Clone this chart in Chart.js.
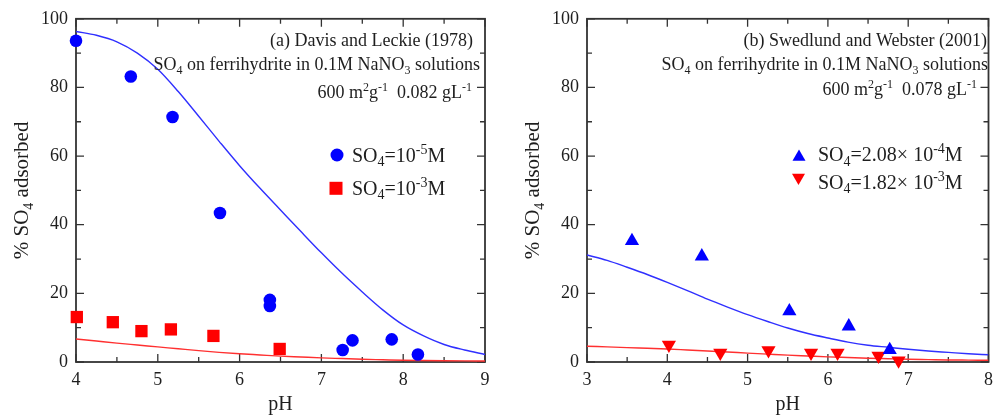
<!DOCTYPE html>
<html>
<head>
<meta charset="utf-8">
<title>SO4 adsorption on ferrihydrite</title>
<script src="https://cdn.jsdelivr.net/npm/chart.js@4.4.1/dist/chart.umd.min.js"></script>
<style>
  body{margin:0;background:#fff;}
  #wrap{display:flex;width:1000px;height:420px;}
  canvas{display:block;}
</style>
</head>
<body>
<div id="wrap">
  <canvas id="chartA" width="500" height="420"></canvas>
  <canvas id="chartB" width="500" height="420"></canvas>
</div>
<script>
// ---- panel (a) Davis and Leckie (1978) ----
const phA_low = [4.0, 4.67, 5.18, 5.76, 6.37, 6.37, 7.26, 7.38, 7.86, 8.18];
const adsA_low = [93.6, 83.2, 71.4, 43.4, 18.1, 16.3, 3.5, 6.3, 6.6, 2.2];
const phA_high = [4.01, 4.45, 4.80, 5.16, 5.68, 6.49];
const adsA_high = [13.1, 11.6, 9.0, 9.5, 7.6, 3.8];
// model curves (pH 4..9, every 0.25)
const phA_model = [4.0, 4.25, 4.5, 4.75, 5.0, 5.25, 5.5, 5.75, 6.0, 6.25, 6.5, 6.75, 7.0, 7.25, 7.5, 7.75, 8.0, 8.25, 8.5, 8.75, 9.0];
const modelA_low = [96.3, 95.2, 93.3, 90.0, 85.3, 78.8, 71.6, 64.3, 57.2, 50.6, 44.3, 38.0, 31.8, 25.9, 20.4, 15.2, 10.8, 7.6, 5.1, 3.5, 2.2];
const modelA_high = [6.7, 6.1, 5.5, 4.95, 4.4, 3.85, 3.3, 2.8, 2.4, 2.05, 1.7, 1.45, 1.2, 1.0, 0.8, 0.65, 0.5, 0.42, 0.36, 0.32, 0.3];

// ---- panel (b) Swedlund and Webster (2001) ----
const phB_low = [3.56, 4.43, 5.52, 6.26, 6.77];
const adsB_low = [35.3, 30.8, 14.8, 10.4, 3.5];
const phB_high = [4.02, 4.66, 5.26, 5.79, 6.12, 6.63, 6.88];
const adsB_high = [5.0, 2.7, 3.4, 2.7, 2.7, 1.8, 0.4];
// model curves (pH 3..8, every 0.25)
const phB_model = [3.0, 3.25, 3.5, 3.75, 4.0, 4.25, 4.5, 4.75, 5.0, 5.25, 5.5, 5.75, 6.0, 6.25, 6.5, 6.75, 7.0, 7.25, 7.5, 7.75, 8.0];
const modelB_low = [31.2, 29.6, 27.6, 25.5, 23.2, 20.8, 18.3, 16.0, 13.8, 11.8, 9.9, 8.3, 7.0, 5.8, 4.9, 4.3, 3.7, 3.2, 2.8, 2.4, 2.1];
const modelB_high = [4.6, 4.4, 4.2, 4.0, 3.8, 3.5, 3.2, 2.9, 2.6, 2.3, 2.0, 1.75, 1.5, 1.3, 1.1, 0.95, 0.8, 0.7, 0.6, 0.55, 0.5];

// axis ticks
const yTicks = [0, 20, 40, 60, 80, 100];
const xTicksA = [4, 5, 6, 7, 8, 9];
const xTicksB = [3, 4, 5, 6, 7, 8];

const BLUE = '#0000ff';
const RED = '#ff0000';
const FONT = '"Liberation Serif", "Times New Roman", serif';
const TEXT = '#1e1e1e';

const toPoints = (xs, ys) => xs.map((x, i) => ({x, y: ys[i]}));

// text pieces: [string, 'n' | 'sub' | 'sup']
const drawRich = (ctx, segs, x, y, size, align) => {
  const fontFor = (t) => `${t === 'n' ? size : Math.round(size * 0.68)}px ${FONT}`;
  let w = 0;
  segs.forEach(([txt, t]) => { ctx.font = fontFor(t); w += ctx.measureText(txt).width; });
  let cx = align === 'right' ? x - w : align === 'center' ? x - w / 2 : x;
  segs.forEach(([txt, t]) => {
    ctx.font = fontFor(t);
    const dy = t === 'sub' ? size * 0.24 : t === 'sup' ? -size * 0.38 : 0;
    ctx.fillText(txt, cx, y + dy);
    cx += ctx.measureText(txt).width;
  });
};

const drawSymbol = (ctx, style, x, y, r, color) => {
  ctx.fillStyle = color;
  ctx.beginPath();
  if (style === 'circle') {
    ctx.arc(x, y, r, 0, Math.PI * 2);
  } else if (style === 'rect') {
    const s = r * Math.SQRT1_2;
    ctx.rect(x - s, y - s, 2 * s, 2 * s);
  } else {
    const dir = style === 'down' ? -1 : 1;
    ctx.moveTo(x, y - dir * r);
    ctx.lineTo(x + r * 0.866, y + dir * r / 2);
    ctx.lineTo(x - r * 0.866, y + dir * r / 2);
    ctx.closePath();
  }
  ctx.fill();
};

// box frame with inward major/minor ticks on all four sides
const frameTicks = {
  id: 'frameTicks',
  beforeDatasetsDraw(chart) {
    const {ctx, chartArea: a, scales: {x, y}} = chart;
    ctx.save();
    ctx.strokeStyle = '#333';
    ctx.lineWidth = 1.3;
    ctx.beginPath();
    for (let v = x.min; v <= x.max + 1e-9; v += 0.5) {
      const px = x.getPixelForValue(v);
      const len = Math.abs(v - Math.round(v)) < 1e-6 ? 8 : 5;
      ctx.moveTo(px, a.bottom); ctx.lineTo(px, a.bottom - len);
      ctx.moveTo(px, a.top); ctx.lineTo(px, a.top + len);
    }
    for (let v = y.min; v <= y.max + 1e-9; v += 10) {
      const py = y.getPixelForValue(v);
      const len = v % 20 === 0 ? 8 : 5;
      ctx.moveTo(a.left, py); ctx.lineTo(a.left + len, py);
      ctx.moveTo(a.right, py); ctx.lineTo(a.right - len, py);
    }
    ctx.stroke();
    ctx.lineWidth = 1.8;
    ctx.strokeRect(a.left, a.top, a.right - a.left, a.bottom - a.top);
    ctx.restore();
  }
};

// notes, legend and axis titles (they need sub/superscripts)
const panelText = (cfg) => ({
  id: 'panelText',
  afterDraw(chart) {
    const {ctx, chartArea: a} = chart;
    ctx.save();
    ctx.fillStyle = TEXT;
    ctx.textBaseline = 'alphabetic';
    ctx.textAlign = 'left';
    cfg.notes.forEach((n) => drawRich(ctx, n.segs, n.x, n.y, 18, 'right'));
    cfg.legend.forEach((l) => {
      drawSymbol(ctx, l.style, l.sx, l.sy, l.r, l.color);
      ctx.fillStyle = TEXT;
      drawRich(ctx, l.segs, l.tx, l.ty, 20, 'left');
    });
    drawRich(ctx, [['pH', 'n']], (a.left + a.right) / 2, 410, 20, 'center');
    ctx.translate(a.left - 55, (a.top + a.bottom) / 2);
    ctx.rotate(-Math.PI / 2);
    drawRich(ctx, [['% SO', 'n'], ['4', 'sub'], [' adsorbed', 'n']], 0, 7, 21, 'center');
    ctx.restore();
  }
});

const makeChart = (id, xMin, xMax, xTicks, leftWidth, rightPad, datasets, text) => new Chart(document.getElementById(id), {
  type: 'scatter',
  data: {datasets},
  options: {
    responsive: false,
    animation: false,
    layout: {padding: {left: 0, right: rightPad, top: 16, bottom: 0}},
    plugins: {legend: {display: false}, tooltip: {enabled: false}},
    scales: {
      x: {
        type: 'linear', min: xMin, max: xMax,
        afterBuildTicks: (s) => { s.ticks = xTicks.map((v) => ({value: v})); },
        afterFit: (s) => { s.height = 58; },
        grid: {display: false, drawTicks: false},
        border: {display: false},
        ticks: {color: TEXT, padding: 7, font: {family: FONT, size: 18}}
      },
      y: {
        min: 0, max: 100,
        afterBuildTicks: (s) => { s.ticks = yTicks.map((v) => ({value: v})); },
        afterFit: (s) => { s.width = leftWidth; },
        grid: {display: false, drawTicks: false},
        border: {display: false},
        ticks: {color: TEXT, padding: 8, font: {family: FONT, size: 18}}
      }
    }
  },
  plugins: [frameTicks, panelText(text)]
});

const markerSet = (xs, ys, color, style, r, rot) => ({
  data: toPoints(xs, ys), showLine: false, clip: false,
  pointStyle: style, pointRadius: r, pointRotation: rot || 0,
  backgroundColor: color, borderColor: color, borderWidth: 0
});
const modelSet = (xs, ys, color) => ({
  data: toPoints(xs, ys), showLine: true, pointRadius: 0,
  borderColor: color, borderWidth: 1.4, cubicInterpolationMode: 'monotone'
});

makeChart('chartA', 4, 9, xTicksA, 76, 15, [
  markerSet(phA_low, adsA_low, BLUE, 'circle', 6.3),
  markerSet(phA_high, adsA_high, RED, 'rect', 8.7),
  modelSet(phA_model, modelA_low, '#3030ff'),
  modelSet(phA_model, modelA_high, '#ff3030')
], {
  notes: [
    {x: 473, y: 45.5, segs: [['(a) Davis and Leckie (1978)', 'n']]},
    {x: 480, y: 70, segs: [['SO', 'n'], ['4', 'sub'], [' on ferrihydrite in 0.1M NaNO', 'n'], ['3', 'sub'], [' solutions', 'n']]},
    {x: 472, y: 98, segs: [['600 m', 'n'], ['2', 'sup'], ['g', 'n'], ['-1', 'sup'], ['  0.082 gL', 'n'], ['-1', 'sup']]}
  ],
  legend: [
    {style: 'circle', sx: 337, sy: 155, r: 6.5, color: BLUE, tx: 352, ty: 161.5,
     segs: [['SO', 'n'], ['4', 'sub'], ['=10', 'n'], ['-5', 'sup'], ['M', 'n']]},
    {style: 'rect', sx: 336, sy: 188.3, r: 9.2, color: RED, tx: 352, ty: 194.5,
     segs: [['SO', 'n'], ['4', 'sub'], ['=10', 'n'], ['-3', 'sup'], ['M', 'n']]}
  ]
});

makeChart('chartB', 3, 8, xTicksB, 87, 4, [
  markerSet(phB_low, adsB_low, BLUE, 'triangle', 8.2),
  markerSet(phB_high, adsB_high, RED, 'triangle', 8.2, 180),
  modelSet(phB_model, modelB_low, '#3030ff'),
  modelSet(phB_model, modelB_high, '#ff3030')
], {
  notes: [
    {x: 487, y: 45.5, segs: [['(b) Swedlund and Webster (2001)', 'n']]},
    {x: 488, y: 70, segs: [['SO', 'n'], ['4', 'sub'], [' on ferrihydrite in 0.1M NaNO', 'n'], ['3', 'sub'], [' solutions', 'n']]},
    {x: 477, y: 95, segs: [['600 m', 'n'], ['2', 'sup'], ['g', 'n'], ['-1', 'sup'], ['  0.078 gL', 'n'], ['-1', 'sup']]}
  ],
  legend: [
    {style: 'up', sx: 299, sy: 157, r: 7.5, color: BLUE, tx: 318, ty: 160.7,
     segs: [['SO', 'n'], ['4', 'sub'], ['=2.08\u00d7 10', 'n'], ['-4', 'sup'], ['M', 'n']]},
    {style: 'down', sx: 298.5, sy: 177.5, r: 7.5, color: RED, tx: 318, ty: 188.5,
     segs: [['SO', 'n'], ['4', 'sub'], ['=1.82\u00d7 10', 'n'], ['-3', 'sup'], ['M', 'n']]}
  ]
});
</script>
</body>
</html>
